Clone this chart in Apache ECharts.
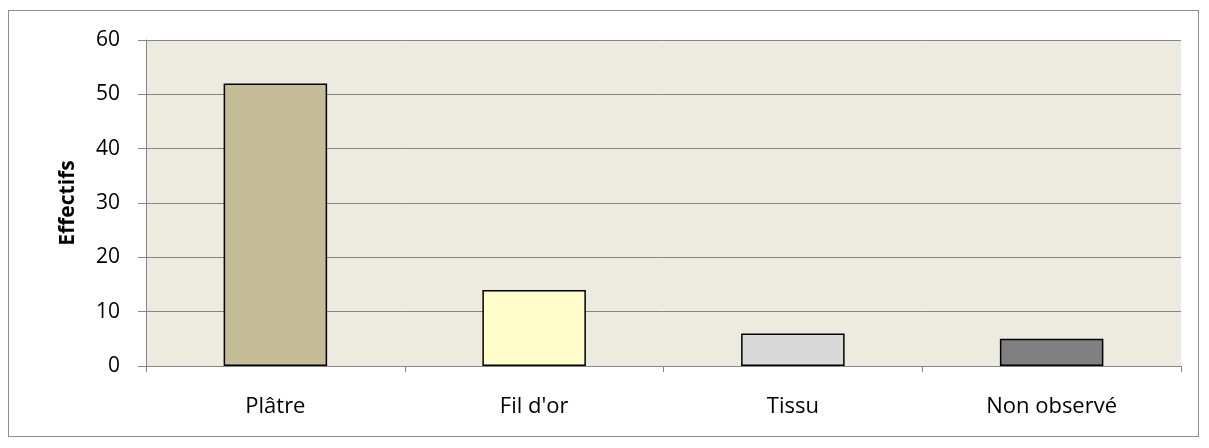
<!DOCTYPE html>
<html>
<head>
<meta charset="utf-8">
<script src="https://cdn.jsdelivr.net/npm/echarts@6/dist/echarts.min.js"></script>
<style>
  html, body { margin: 0; padding: 0; background: #ffffff; }
  #frame { position: absolute; left: 8px; top: 10px; width: 1191px; height: 427px; border: 1px solid #8c8c8c; box-sizing: border-box; }
  #chart { position: absolute; left: 0; top: 0; width: 1209px; height: 448px; }
</style>
</head>
<body>
<div id="frame"></div>
<div id="chart"></div>
<script>
// Categories and counts
const categories = ['Plâtre', "Fil d'or", 'Tissu', 'Non observé'];
const counts = [52, 14, 6, 5];
const barColors = ['#C4BD97', '#FFFDCB', '#D9D9D9', '#808080'];
const yTicks = { min: 0, max: 60, interval: 10 };

const chart = echarts.init(document.getElementById('chart'), null, { renderer: 'canvas' });
const font = 'Open Sans, Noto Sans, sans-serif';

chart.setOption({
  animation: false,
  grid: { left: 146, right: 28, top: 40, bottom: 82, show: true, backgroundColor: '#EDEAE0', borderWidth: 0 },
  xAxis: {
    type: 'category',
    data: categories,
    axisLine: { lineStyle: { color: '#868686', width: 1 } },
    axisTick: { show: true, length: 6, lineStyle: { color: '#868686' } },
    axisLabel: { color: '#000', fontSize: 22, fontFamily: font, margin: 30 }
  },
  yAxis: {
    type: 'value',
    min: yTicks.min, max: yTicks.max, interval: yTicks.interval,
    name: 'Effectifs',
    nameLocation: 'middle',
    nameGap: 67,
    nameTextStyle: { color: '#000', fontSize: 21, fontWeight: 'bold', fontFamily: font },
    axisLine: { show: true, lineStyle: { color: '#868686', width: 1 } },
    axisTick: { show: true, length: 8, lineStyle: { color: '#868686' } },
    axisLabel: { color: '#000', fontSize: 21, fontFamily: font, margin: 26 },
    splitLine: { show: true, lineStyle: { color: '#868686', width: 1 } }
  },
  series: [{
    type: 'bar',
    data: counts.map((v, i) => ({ value: v, itemStyle: { color: barColors[i] } })),
    barWidth: '40%',
    itemStyle: { borderColor: '#000', borderWidth: 1.5 }
  }]
});
</script>
</body>
</html>
